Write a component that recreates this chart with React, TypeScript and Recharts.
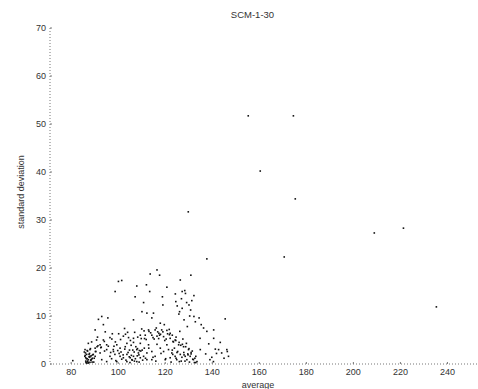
import React from "react";
import { ScatterChart, Scatter, XAxis, YAxis } from "recharts";

const title = "SCM-1-30";
const xLabel = "average";
const yLabel = "standard deviation";
const xTicks = [80, 100, 120, 140, 160, 180, 200, 220, 240];
const yTicks = [0, 10, 20, 30, 40, 50, 60, 70];

const avg = [
  155.3, 174.5, 160.4, 175.3, 129.8, 221.3, 208.9, 170.6, 235.3, 137.7,
  116.5, 113.6, 117.6, 130.9, 126.4, 100.1, 101.5, 98.7, 112.0, 107.9,
  120.7, 113.4, 127.2, 128.6, 132.2, 107.2, 118.8, 124.5, 110.8, 119.0,
  130.1, 127.2, 130.8, 126.1, 110.1, 112.2, 115.0, 132.2, 134.4, 93.0,
  95.6, 91.6, 106.5, 145.5, 114.3, 117.9, 119.6, 135.3, 136.3, 129.4,
  93.7, 90.2, 112.9, 115.7, 118.5, 120.7, 102.7, 140.6, 137.7, 122.1,
  109.4, 111.5, 114.3, 116.5, 119.3, 122.1, 124.2, 134.8, 140.6, 102.2,
  104.4, 106.5, 96.5, 93.7, 90.8, 88.7, 87.3, 92.3, 95.1, 99.4,
  103.7, 106.5, 109.4, 112.9, 116.5, 120.7, 123.5, 125.7, 127.8, 129.9,
  134.9, 141.3, 142.7, 146.2, 146.9, 144.0, 139.0, 140.5, 85.9, 88.0,
  90.2, 86.6, 88.0, 86.2, 87.3, 88.7, 86.9, 88.0, 89.4, 92.3,
  95.1, 97.9, 100.8, 96.5, 98.6, 100.8, 99.4, 102.2, 103.7, 105.1,
  106.5, 107.9, 108.6, 109.4, 110.8, 112.2, 114.3, 115.7, 117.9, 119.3,
  121.4, 122.8, 124.2, 126.4, 128.5, 130.6, 132.0, 133.5, 129.2, 124.9,
  122.1, 120.0, 103.7, 105.8, 107.9, 112.2, 114.3, 80.7, 90.2, 93.0,
  95.1, 124.5, 125.9, 127.3, 128.7, 130.1, 131.5, 107.5, 108.2, 109.0,
  106.8, 86.0, 86.5, 87.0, 87.6, 88.3, 85.6, 86.8, 87.8, 88.5,
  89.0, 86.3, 87.2, 88.9, 90.5, 91.4, 92.8, 94.2, 96.8, 98.2,
  99.8, 101.2, 103.0, 104.8, 106.0, 108.8, 110.2, 111.6, 113.0, 114.8,
  116.0, 117.2, 118.2, 120.2, 121.0, 123.0, 125.0, 126.8, 128.0, 129.6,
  131.0, 132.6, 133.0, 100.2, 104.0, 111.0, 113.8, 116.8, 118.0, 121.8,
  97.5, 94.5, 91.0, 105.5, 109.8, 111.9, 115.3, 117.3, 119.8, 123.3,
  86.2, 86.8, 87.4, 87.9, 88.4, 89.1, 86.1, 87.0, 89.6, 90.3,
  88.2, 85.8, 86.6, 87.6, 89.8, 97.2, 98.0, 99.0, 100.4, 101.5,
  102.8, 103.3, 104.2, 105.0, 105.6, 106.2, 107.3, 108.1, 108.9, 109.6,
  110.4, 111.1, 104.7, 106.9, 102.1, 122.5, 123.2, 123.9, 124.6, 125.3,
  126.0, 126.6, 127.1, 127.9, 128.4, 129.0, 129.7, 130.3, 131.0, 131.7,
  132.4, 133.0, 101.0, 103.1, 105.2, 107.0, 108.3, 110.0, 111.2, 113.1,
  114.8, 116.2, 117.6, 119.0, 120.4, 121.7, 123.0, 124.6, 126.2, 127.5,
  124.3, 125.1, 126.9, 128.0, 129.1, 130.4, 131.3, 132.8, 125.8, 128.3,
  137.2, 138.5, 139.8, 141.8, 143.4, 145.0, 146.4, 91.2, 92.6, 94.1,
  95.8, 97.3, 98.8,
];

const sd = [
  51.7, 51.7, 40.2, 34.4, 31.7, 28.3, 27.3, 22.3, 11.9, 21.9,
  19.6, 18.75, 18.5, 18.5, 17.5, 17.2, 17.4, 15.1, 16.5, 16.25,
  16.0, 15.1, 15.1, 14.7, 14.25, 14.0, 14.0, 13.0, 12.8, 12.3,
  12.3, 11.6, 11.25, 10.9, 10.9, 10.6, 10.6, 9.9, 9.6, 9.9,
  9.6, 9.3, 9.2, 9.4, 9.6, 8.5, 8.2, 8.2, 7.5, 7.8,
  8.2, 7.1, 7.1, 7.1, 7.1, 7.0, 7.4, 7.1, 6.8, 6.4,
  6.0, 6.0, 6.0, 5.8, 5.7, 5.35, 5.0, 5.35, 5.35, 5.8,
  5.5, 5.35, 5.5, 5.0, 5.0, 4.6, 4.3, 4.0, 4.0, 4.0,
  4.3, 4.5, 4.3, 4.0, 4.1, 4.0, 4.6, 4.0, 3.6, 3.0,
  3.0, 3.1, 3.0, 3.0, 1.6, 2.3, 0.9, 0.5, 3.0, 3.0,
  3.3, 2.0, 1.6, 1.3, 0.9, 1.0, 0.5, 0.35, 2.0, 2.3,
  3.0, 3.0, 3.3, 1.6, 2.0, 1.6, 0.5, 1.3, 2.0, 1.3,
  1.6, 3.0, 2.3, 1.3, 1.6, 2.3, 2.6, 1.6, 3.3, 2.6,
  3.0, 2.3, 1.6, 2.0, 1.6, 1.6, 0.9, 0.5, 0.9, 0.9,
  1.3, 0.9, 0.5, 0.9, 0.5, 0.9, 0.9, 0.7, 1.6, 0.9,
  0.5, 4.9, 4.5, 4.1, 3.6, 3.2, 2.7, 3.6, 3.2, 2.8,
  2.5, 1.8, 1.1, 0.6, 1.5, 0.8, 2.5, 2.8, 2.2, 1.7,
  1.2, 0.3, 0.2, 0.4, 2.6, 3.8, 3.5, 2.7, 2.4, 3.7,
  2.8, 2.5, 3.6, 2.9, 0.8, 1.9, 2.9, 1.2, 3.3, 1.4,
  0.6, 5.3, 2.2, 1.1, 6.3, 2.9, 2.4, 0.6, 1.9, 2.1,
  2.4, 1.2, 0.3, 6.3, 6.6, 6.9, 6.5, 6.7, 6.2, 6.1,
  6.3, 6.7, 3.6, 3.9, 5.3, 5.1, 5.2, 6.4, 4.9, 4.7,
  0.6, 1.1, 0.3, 1.4, 0.8, 1.9, 2.3, 2.7, 0.4, 2.6,
  3.2, 1.6, 0.2, 2.0, 1.2, 1.1, 2.6, 0.7, 2.2, 1.0,
  3.1, 0.8, 2.4, 0.3, 1.8, 2.9, 1.1, 1.7, 0.4, 2.7,
  0.8, 3.3, 1.5, 0.6, 1.9, 0.4, 2.0, 3.3, 1.2, 2.6,
  0.5, 3.9, 1.4, 2.4, 0.6, 4.3, 1.9, 0.4, 2.1, 1.0,
  0.3, 1.6, 5.1, 6.2, 4.9, 6.6, 5.6, 7.3, 5.3, 6.8,
  5.5, 7.5, 6.0, 6.7, 5.2, 7.2, 6.0, 5.6, 6.8, 5.2,
  14.6, 12.1, 13.6, 9.2, 12.8, 10.0, 13.2, 8.8, 10.4, 15.3,
  2.1, 4.2, 1.4, 2.2, 4.5, 1.2, 2.6, 5.6, 3.4, 4.7,
  3.7, 5.2, 4.6,
];

const points = avg.map((a, i) => ({ avg: a, sd: sd[i] }));

const TEXT = "#333";
const AXIS = "#777";
const FONT = "'Liberation Sans', Arial, sans-serif";

const YTickLeft = (props: any) => {
  const { x, y, payload } = props;
  return (
    <g>
      <text x={x} y={y} dy="0.35em" textAnchor="end" fontSize={9} fill={TEXT} fontFamily={FONT}>
        {payload.value}
      </text>
      <line x1={x + 4} x2={x + 6} y1={y} y2={y} stroke={AXIS} />
    </g>
  );
};

const XTickBottom = (props: any) => {
  const { x, y, payload } = props;
  return (
    <g>
      <text x={x} y={y} dy="0.71em" textAnchor="middle" fontSize={9} fill={TEXT} fontFamily={FONT}>
        {payload.value}
      </text>
      <line x1={x} x2={x} y1={y - 5} y2={y - 7} stroke={AXIS} />
    </g>
  );
};

const XTickTop = (props: any) => {
  const { x, y } = props;
  return <line x1={x} x2={x} y1={y} y2={y + 2} stroke={AXIS} />;
};

const YTickRight = (props: any) => {
  const { x, y } = props;
  return <line x1={x - 3} x2={x} y1={y} y2={y} stroke={AXIS} />;
};

const Dot = (props: any) => {
  const { cx, cy } = props;
  return <rect x={cx - 0.8} y={cy - 0.8} width={1.6} height={1.6} fill="#111" />;
};

const axisLine = { stroke: AXIS, strokeDasharray: "1 2" };

export default function App() {
  return (
    <div style={{ position: "absolute", left: 0, top: 0, width: 478, height: 389, background: "#fff", fontFamily: FONT, overflow: "hidden" }}>
      <ScatterChart
        width={478}
        height={389}
        margin={{ top: 28, right: 0, bottom: 0, left: 0 }}
      >
        <XAxis
          xAxisId="b"
          type="number"
          dataKey="avg"
          domain={[71, 253]}
          ticks={xTicks}
          allowDataOverflow
          height={25}
          tickSize={0}
          tickMargin={5}
          tickLine={false}
          axisLine={axisLine}
          tick={<XTickBottom />}
        />
        <XAxis
          xAxisId="t"
          orientation="top"
          type="number"
          dataKey="avg"
          domain={[71, 253]}
          ticks={xTicks}
          allowDataOverflow
          height={0}
          tickSize={0}
          tickLine={false}
          axisLine={axisLine}
          tick={<XTickTop />}
        />
        <YAxis
          yAxisId="l"
          type="number"
          dataKey="sd"
          domain={[0, 70]}
          ticks={yTicks}
          allowDataOverflow
          width={50}
          tickSize={0}
          tickMargin={4}
          tickLine={false}
          axisLine={axisLine}
          tick={<YTickLeft />}
        />
        <YAxis
          yAxisId="r"
          orientation="right"
          type="number"
          dataKey="sd"
          domain={[0, 70]}
          ticks={yTicks}
          allowDataOverflow
          width={0}
          tickSize={0}
          tickLine={false}
          axisLine={axisLine}
          tick={<YTickRight />}
        />
        <Scatter
          data={points}
          xAxisId="b"
          yAxisId="l"
          isAnimationActive={false}
          shape={<Dot />}
        />
      </ScatterChart>
      <div style={{ position: "absolute", left: 0, width: 505, top: 9, textAlign: "center", fontSize: 9.5, color: TEXT }}>
        {title}
      </div>
      <div style={{ position: "absolute", left: 0, width: 516, top: 380, textAlign: "center", fontSize: 9, color: TEXT }}>
        {xLabel}
      </div>
      <div
        style={{
          position: "absolute",
          left: 21,
          top: 192,
          fontSize: 9,
          color: TEXT,
          whiteSpace: "nowrap",
          transform: "translate(-50%, -50%) rotate(-90deg)",
        }}
      >
        {yLabel}
      </div>
    </div>
  );
}
